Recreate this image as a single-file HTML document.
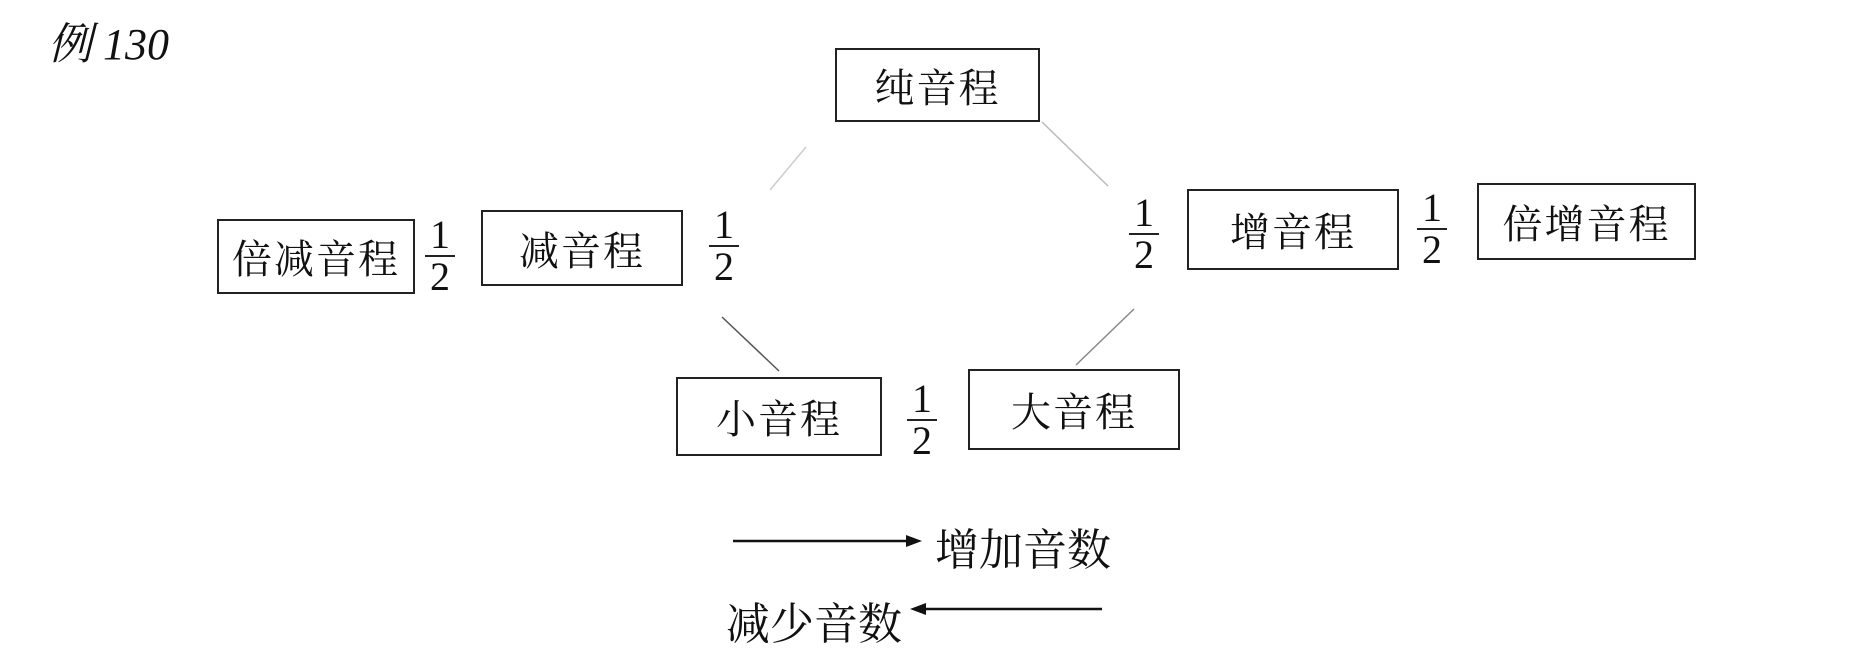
<!DOCTYPE html>
<html><head><meta charset="utf-8"><style>
body{margin:0;width:1869px;height:666px;background:#fff;position:relative;overflow:hidden;font-family:"Liberation Serif","Noto Serif CJK SC",serif;color:#111}
.b{position:absolute;border:2px solid #222;box-sizing:border-box;display:flex;align-items:center;justify-content:center;font-size:40px;letter-spacing:2px}
.f{position:absolute;width:34px;text-align:center;font-size:40px;line-height:38px}
.f div{border-top:2px solid #222;margin:1px 2px}
.t{position:absolute;font-size:44px;white-space:nowrap}
</style></head><body>
<div class="t" style="left:48px;top:8px;font-style:italic;font-size:44px">例 130</div>
<div class="b" style="left:835px;top:48px;width:205px;height:74px">纯音程</div>
<div class="b" style="left:217px;top:219px;width:198px;height:75px">倍减音程</div>
<div class="b" style="left:481px;top:210px;width:202px;height:76px">减音程</div>
<div class="b" style="left:1187px;top:189px;width:212px;height:81px">增音程</div>
<div class="b" style="left:1477px;top:183px;width:219px;height:77px">倍增音程</div>
<div class="b" style="left:676px;top:377px;width:206px;height:79px">小音程</div>
<div class="b" style="left:968px;top:369px;width:212px;height:81px">大音程</div>
<div class="f" style="left:423px;top:216px">1<div></div>2</div>
<div class="f" style="left:707px;top:206px">1<div></div>2</div>
<div class="f" style="left:1127px;top:194px">1<div></div>2</div>
<div class="f" style="left:1415px;top:189px">1<div></div>2</div>
<div class="f" style="left:905px;top:380px">1<div></div>2</div>
<svg width="1869" height="666" style="position:absolute;left:0;top:0">
<g stroke="#555" stroke-width="1.5" fill="none">
<line x1="806" y1="147" x2="770" y2="190" stroke="#ccc"/>
<line x1="1042" y1="122" x2="1108" y2="186" stroke="#bbb"/>
<line x1="722" y1="317" x2="779" y2="371"/>
<line x1="1134" y1="309" x2="1076" y2="365" stroke="#888"/>
</g>
<line x1="733" y1="541" x2="915" y2="541" stroke="#111" stroke-width="2.5"/>
<polygon points="922,541 906,535 906,547" fill="#111"/>
<line x1="918" y1="609" x2="1102" y2="609" stroke="#111" stroke-width="2.5"/>
<polygon points="910,609 926,603 926,615" fill="#111"/>
</svg>
<div class="t" style="left:935px;top:514px">增加音数</div>
<div class="t" style="left:726px;top:588px">减少音数</div>
</body></html>
